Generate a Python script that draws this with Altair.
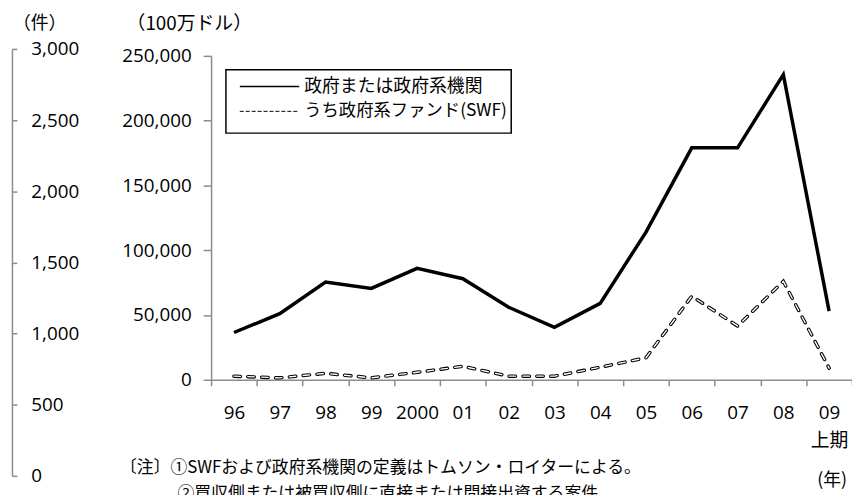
import altair as alt
import pandas as pd

# ---- data ----
years = ["96", "97", "98", "99", "2000", "01", "02", "03", "04", "05", "06", "07", "08", "09"]
gov = [36500, 51000, 75500, 70500, 86000, 78000, 56000, 40500, 59000, 114000, 179000, 179000, 235500, 53000]
swf = [2800, 1500, 5000, 1500, 5800, 10400, 2800, 2800, 9700, 17000, 64500, 41500, 76000, 9000]
usd_ticks = [0, 50000, 100000, 150000, 200000, 250000]
count_ticks = [0, 500, 1000, 1500, 2000, 2500, 3000]
legend_labels = ["政府または政府系機関", "うち政府系ファンド(SWF)"]
notes = ["〔注〕①SWFおよび政府系機関の定義はトムソン・ロイターによる。",
         "②買収側または被買収側に直接または間接出資する案件。"]

df = pd.DataFrame({"year": years, "gov": gov, "swf": swf})

GRAY = "#8c8c8c"
NUM_FONT = "'Open Sans', 'Noto Sans CJK JP'"
JP_FONT = "'Noto Sans CJK JP'"
W, H = 647, 327

xenc = alt.X(
    "year:N", sort=years,
    scale=alt.Scale(type="band", domain=years, paddingInner=0, paddingOuter=0),
    axis=alt.Axis(
        title=None, tickBand="extent", labelAngle=0, labelFont=NUM_FONT, labelFontSize=19,
        labelColor="black", labelBaseline="top", labelPadding=18, labelLineHeight=28,
        tickSize=6, tickColor=GRAY, tickWidth=1.5, domainColor=GRAY, domainWidth=1.5,
        labelOverlap=False, grid=False,
        labelExpr="datum.value == '09' ? ['09', '上期'] : datum.value",
    ),
)

yscale = alt.Scale(domain=[0, 250000], nice=False, zero=True)
yaxis = alt.Axis(
    title=None, values=usd_ticks, format=",.0f", tickSize=8, labelPadding=12,
    labelFont=NUM_FONT, labelFontSize=19, labelColor="black", grid=False,
    tickColor=GRAY, tickWidth=1.5, domainColor=GRAY, domainWidth=1.5,
)

gov_line = alt.Chart(df).mark_line(color="black", strokeWidth=3.5).encode(
    x=xenc, y=alt.Y("gov:Q", scale=yscale, axis=yaxis)
)
swf_outer = alt.Chart(df).mark_line(
    color="black", strokeWidth=3.5, strokeDash=[6.5, 7.5], strokeCap="round"
).encode(x=xenc, y=alt.Y("swf:Q", scale=yscale, axis=yaxis))
swf_inner = alt.Chart(df).mark_line(
    color="white", strokeWidth=1.4, strokeDash=[6.5, 7.5], strokeCap="round"
).encode(x=xenc, y=alt.Y("swf:Q", scale=yscale, axis=yaxis))

one = alt.Data(values=[{}])

# legend box
legend_box = alt.Chart(one).mark_rect(fill="white", stroke="black", strokeWidth=1.5).encode(
    x=alt.value(15), x2=alt.value(303), y=alt.value(14), y2=alt.value(78)
)
leg_solid = alt.Chart(one).mark_rule(color="black", strokeWidth=1.5).encode(
    x=alt.value(29), x2=alt.value(89), y=alt.value(31)
)
leg_dash = alt.Chart(one).mark_rule(color="black", strokeWidth=1, strokeDash=[4, 2]).encode(
    x=alt.value(29), x2=alt.value(89), y=alt.value(56)
)
leg_t1 = alt.Chart(one).mark_text(font=JP_FONT, fontSize=18, align="left", baseline="middle", color="black").encode(
    x=alt.value(94), y=alt.value(31), text=alt.value(legend_labels[0])
)
leg_t2 = alt.Chart(one).mark_text(font=JP_FONT, fontSize=17.5, align="left", baseline="middle", color="black").encode(
    x=alt.value(94), y=alt.value(56), text=alt.value(legend_labels[1])
)

def label(txt, x, y, size=18, align="left"):
    return alt.Chart(one).mark_text(font=JP_FONT, fontSize=size, align=align, baseline="middle", color="black").encode(
        x=alt.value(x), y=alt.value(y), text=alt.value(txt)
    )

t_count = label("（件）", -173, -32, 18, "center")
t_usd = label("（100万ドル）", -22, -32, 19, "center")
t_year = label("(年)", 627, 429, 18, "center")
t_note1 = label(notes[0], -92, 416, 17)
t_note2 = label(notes[1], -34, 442, 17)

main = alt.layer(gov_line, swf_outer, swf_inner, legend_box, leg_solid, leg_dash, leg_t1, leg_t2,
                 t_count, t_usd, t_year, t_note1, t_note2)

left_axis = alt.Chart(pd.DataFrame({"n": [0, 3000]})).mark_point(opacity=0).encode(
    y=alt.Y("n:Q", scale=alt.Scale(domain=[0, 3000], range=[424, -7], nice=False),
            axis=alt.Axis(orient="right", offset=-848, title=None, values=count_ticks, format=",.0f",
                          tickSize=5, labelPadding=14, labelFont=NUM_FONT, labelFontSize=19,
                          labelColor="black", grid=False, tickColor=GRAY, tickWidth=1.5,
                          domainColor=GRAY, domainWidth=1.5))
)

chart = alt.layer(main, left_axis).resolve_scale(y="independent").properties(
    width=W, height=H,
    autosize=alt.AutoSizeParams(type="none"),
    padding={"left": 205, "top": 46, "right": 0, "bottom": 114},
    background="white",
).configure_view(stroke=None)

chart.save("out.html", embed_options={"renderer": "svg", "actions": False})
